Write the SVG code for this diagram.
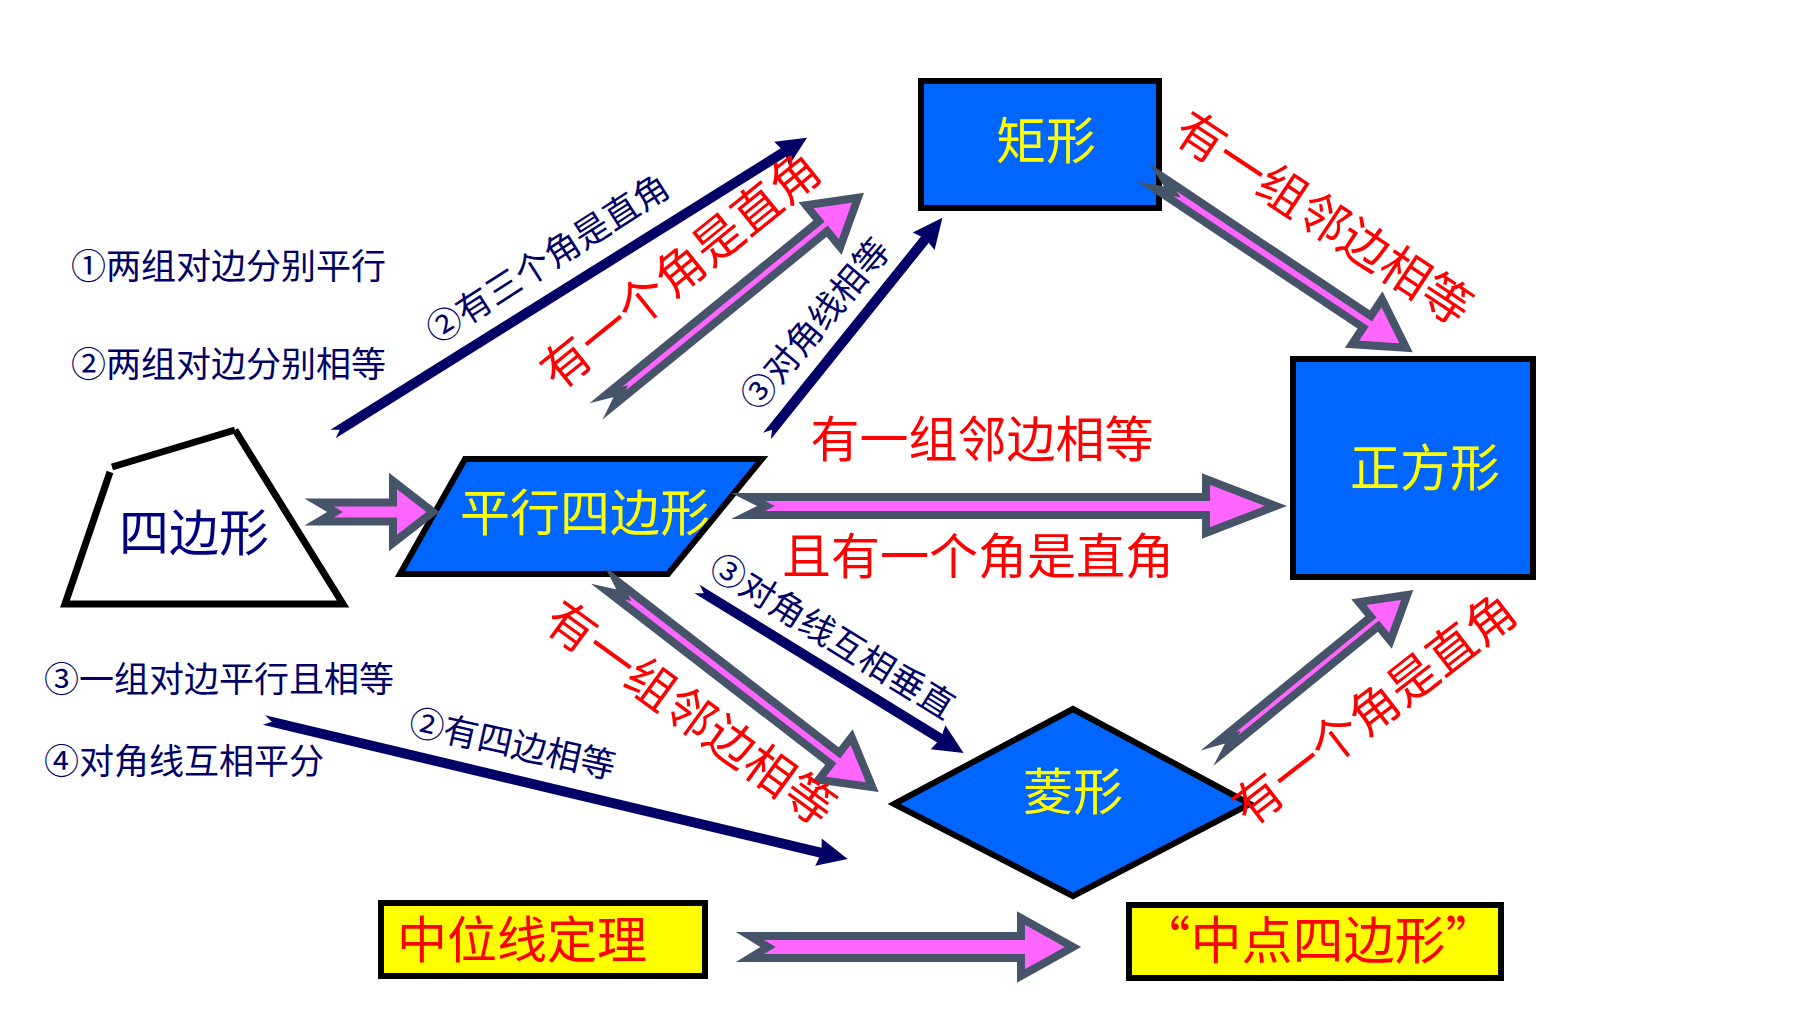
<svg xmlns="http://www.w3.org/2000/svg" width="1800" height="1012" viewBox="0 0 1800 1012">
<style>
text { font-family: "Noto Sans CJK SC", "Noto Sans", sans-serif; }
.lbl { font-size: 35px; fill: #000066; }
.red { font-size: 49px; fill: #FF0000; }
.yel { font-size: 50px; fill: #FFFF00; }
.nav { font-size: 50px; fill: #000080; }
.big { fill: #FF66FF; stroke: #46546A; stroke-width: 8; stroke-linejoin: miter; stroke-miterlimit: 10; }
.thin { fill: #000066; }
.node { fill: #0066FF; stroke: #000; stroke-width: 6; }
.ybox { fill: #FFFF00; stroke: #000; stroke-width: 6; }
.c { text-anchor: middle; dominant-baseline: central; }
</style>
<rect width="1800" height="1012" fill="#fff"/>

<g id="quad">
  <polygon points="110,470 235,430 345,605 63,606" fill="#fff"/>
  <polyline points="112,467 235,430" fill="none" stroke="#000" stroke-width="7"/>
  <polyline points="235,430 343,604 65,604 110,472" fill="none" stroke="#000" stroke-width="7" stroke-linejoin="miter"/>
  <text class="nav c" x="194" y="529">四边形</text>
</g>

<g id="para">
  <polygon class="node" points="465,459 762,459 668,574 400,574" stroke-width="7"/>
  <text class="yel c" x="585" y="509">平行四边形</text>
</g>

<g id="rect">
  <rect class="node" x="921" y="81" width="238" height="127"/>
  <text class="yel c" x="1046" y="137">矩形</text>
</g>

<g id="square">
  <rect class="node" x="1293" y="359" width="240" height="218"/>
  <text class="yel c" x="1425" y="464">正方形</text>
</g>

<g id="rhombus">
  <polygon class="node" points="1073,709 1250,804 1073,896 894,804"/>
  <text class="yel c" x="1073" y="788">菱形</text>
</g>

<g id="midline">
  <rect class="ybox" x="381" y="903" width="324" height="73"/>
  <text class="red c" x="522" y="936" style="font-size:50px">中位线定理</text>
</g>

<g id="midquad">
  <rect class="ybox" x="1129" y="905" width="372" height="73"/>
  <text class="red c" x="1318" y="937" style="font-size:51px">“中点四边形”</text>
</g>

<g id="connectors">
  <!-- big pink arrows -->
  <path class="big" transform="translate(319,512)" d="M0,-9.5 L74,-9.5 L74,-31 L114,0 L74,31 L74,9.5 L0,9.5 L16,0 Z"/>
  <path class="big" transform="translate(748,506)" d="M0,-9 L458,-9 L458,-27 L528,0 L458,27 L458,9 L0,9 L18,0 Z"/>
  <path class="big" transform="translate(750,947)" d="M0,-11 L271,-11 L271,-29 L323,0 L271,29 L271,11 L0,11 L18,0 Z"/>
  <path class="big" transform="translate(610,400) rotate(-39.2)" d="M0,-6.5 L275,-6.5 L275,-27 L320,0 L275,27 L275,6.5 L0,6.5 L14,0 Z"/>
  <path class="big" transform="translate(1159,183) rotate(33.7)" d="M0,-7 L250,-7 L250,-27 L297,0 L250,27 L250,7 L0,7 L16,0 Z"/>
  <path class="big" transform="translate(612,586) rotate(37.7)" d="M0,-7 L282,-7 L282,-27 L329,0 L282,27 L282,7 L0,7 L15,0 Z"/>
  <path class="big" transform="translate(1222,746) rotate(-39.2)" d="M0,-6 L197,-6 L197,-25 L239,0 L197,25 L197,6 L0,6 L14,0 Z"/>
  <!-- thin navy arrows -->
  <path class="thin" transform="translate(333,434) rotate(-32)" d="M0,-5 L531,-5 L529,-14 L559,0 L529,14 L531,5 L0,5 L8,0 Z"/>
  <path class="thin" transform="translate(767,436) rotate(-51.2)" d="M0,-5 L252,-5 L250,-14 L280,0 L250,14 L252,5 L0,5 L8,0 Z"/>
  <path class="thin" transform="translate(697,589) rotate(31.6)" d="M0,-5 L285,-5 L283,-14 L313,0 L283,14 L285,5 L0,5 L8,0 Z"/>
  <path class="thin" transform="translate(264,720) rotate(13.4)" d="M0,-5 L572,-5 L570,-14 L600,0 L570,14 L572,5 L0,5 L8,0 Z"/>
</g>

<g id="labels">
  <text class="lbl" x="71" y="263" dominant-baseline="central">①两组对边分别平行</text>
  <text class="lbl" x="71" y="361" dominant-baseline="central">②两组对边分别相等</text>
  <text class="lbl" x="44" y="676" dominant-baseline="central">③一组对边平行且相等</text>
  <text class="lbl" x="44" y="758" dominant-baseline="central">④对角线互相平分</text>
  <text class="lbl c" transform="translate(546,256) rotate(-32.6)">②有三个角是直角</text>
  <text class="lbl c" transform="translate(813,322) rotate(-50)">③对角线相等</text>
  <text class="lbl c" transform="translate(834,634) rotate(31.7)">③对角线互相垂直</text>
  <text class="lbl c" transform="translate(513,741) rotate(12.6)">②有四边相等</text>
  <text class="red c" transform="translate(678,267) rotate(-39)">有一个角是直角</text>
  <text class="red c" transform="translate(1326,215) rotate(33.5)">有一组邻边相等</text>
  <text class="red c" x="982" y="435">有一组邻边相等</text>
  <text class="red c" x="978" y="552">且有一个角是直角</text>
  <text class="red c" transform="translate(693,710) rotate(36)">有一组邻边相等</text>
  <text class="red c" transform="translate(1372,706) rotate(-37.8)">有一个角是直角</text>
</g>
</svg>
